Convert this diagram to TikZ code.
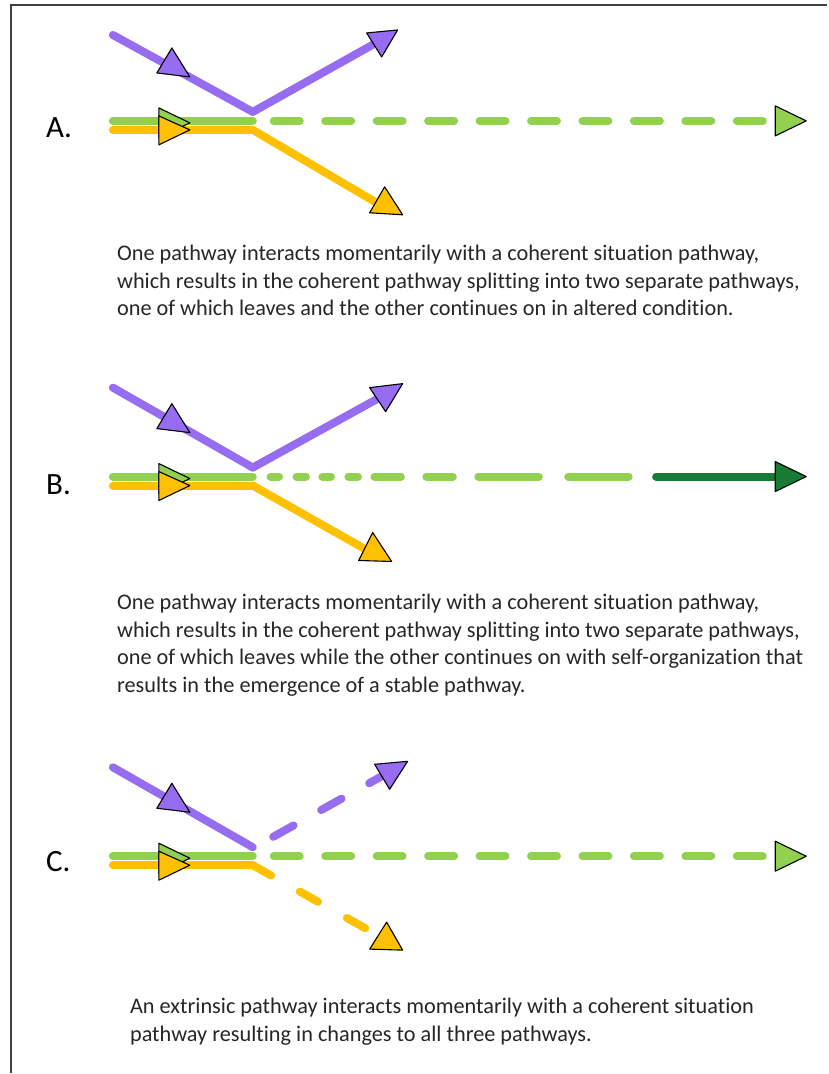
\documentclass[tikz,border=0pt]{standalone}
\usepackage{fontspec}
\setmainfont{Carlito}[Ligatures={NoCommon}]
\usetikzlibrary{calc}

\definecolor{pathPurple}{RGB}{150,108,240}
\definecolor{pathGreen}{RGB}{146,208,80}
\definecolor{pathOrange}{RGB}{255,192,0}
\definecolor{pathDark}{RGB}{24,122,52}
\definecolor{frameGray}{RGB}{64,64,64}

\begin{document}
\begin{tikzpicture}[x=1pt,y=-1pt]
    \tikzset{%
        pathway/.style={line width=8pt,line cap=round,line join=round},
        headtri/.style={draw=black,line width=1.1pt,line join=round},
        panellabel/.style={font=\fontsize{31}{31}\selectfont,
            anchor=base west,inner sep=0pt},
        % base 锚点是最后一行的基线
        caption/.style={font=\fontsize{22.3}{27.6}\selectfont,
            anchor=base west,align=left,inner sep=0pt,text=black!85},
        green dash/.style={dash pattern=on 26pt off 25.5pt}
    }
    % 三角形箭头: 颜色, 三个顶点
    \newcommand\DrawHead[4]{
        \filldraw[headtri,fill=#1] #2 -- #3 -- #4 -- cycle;}
    % 每组共有的部分: 参数1 名字前缀, 参数2 紫线起点的 y
    \newcommand\DrawEntry[2]{
        \coordinate (#1in) at (113,#2);
        \coordinate (#1bend) at (253,-9);
        \coordinate (#1gs) at (113,0);
        \coordinate (#1gm) at (253,0);
        \coordinate (#1os) at (113,9);
        \coordinate (#1om) at (253,9);
        \draw[pathway,pathOrange] (#1os) -- (#1om);
        \draw[pathway,pathGreen] (#1gs) -- (#1gm);
        \draw[pathway,pathPurple] (#1in) -- (#1bend);
        \DrawHead{pathPurple}{(172,-73)}{(157,-48)}{(190,-44)}
        \DrawHead{pathGreen}{(159,-13)}{(190,2)}{(159,17)}
        \DrawHead{pathOrange}{(159,-5)}{(190,9)}{(159,24)}
    }
    % 画框 (只有上边和左边)
    \draw[frameGray,line width=2pt] (828,5) -- (11,5) -- (11,1074);
    \useasboundingbox (0,0) rectangle (828,1074);

    %%%%%%%%%%%%%%%%%%%% A %%%%%%%%%%%%%%%%%%%%
    \node[panellabel] (labA) at (46,138) {A.};
    \begin{scope}[shift={(0,121)}]
        \coordinate (Aout) at (378,-79);
        \coordinate (Aoend) at (377,82);
        \coordinate (Agd) at (274,0);
        \coordinate (Age) at (776,0);
        \draw[pathway,pathPurple] (253,-9) -- (Aout);
        \draw[pathway,pathOrange] (253,9) -- (Aoend);
        \draw[pathway,pathGreen,green dash] (Agd) -- (Age);
        \DrawEntry{A}{-86}
        \DrawHead{pathPurple}{(367,-88)}{(398,-91)}{(382,-64)}
        \DrawHead{pathOrange}{(385,66)}{(370,92)}{(403,94)}
        \DrawHead{pathGreen}{(776,-15)}{(807,0)}{(776,15)}
    \end{scope}
    \node[caption] (txtA) at (117,316) {One pathway interacts momentarily
        with a coherent situation pathway,\\
        which results in the coherent pathway splitting into two separate
        pathways,\\
        one of which leaves and the other continues on in altered
        condition.};

    %%%%%%%%%%%%%%%%%%%% B %%%%%%%%%%%%%%%%%%%%
    \node[panellabel] (labB) at (46,495) {B.};
    \begin{scope}[shift={(0,477)}]
        \coordinate (Bout) at (380,-79);
        \coordinate (Boend) at (368,74);
        \coordinate (Bgd) at (270.75,0);
        \coordinate (Bge) at (629.25,0);
        \coordinate (Bks) at (656.75,0);
        \coordinate (Bke) at (776,0);
        \draw[pathway,pathPurple] (253,-9) -- (Bout);
        \draw[pathway,pathOrange] (253,9) -- (Boend);
        % 越来越长的虚线
        \draw[pathway,pathGreen,dash pattern=on 8.5pt off 17.5pt on 9.5pt
            off 16.5pt on 8.5pt off 17.5pt on 9.5pt off 16.5pt on 26.5pt
            off 25.5pt on 26.5pt off 25.5pt on 60.5pt off 29.5pt on 60.5pt
            off 40pt] (Bgd) -- (Bge);
        \draw[pathway,pathDark] (Bks) -- (Bke);
        \DrawEntry{B}{-89}
        \DrawHead{pathPurple}{(370,-89)}{(403,-93)}{(386,-65)}
        \DrawHead{pathOrange}{(373,56)}{(359,84)}{(392,85)}
        \DrawHead{pathDark}{(776,-15)}{(807,0)}{(776,15)}
    \end{scope}
    \node[caption] (txtB) at (117,693) {One pathway interacts momentarily
        with a coherent situation pathway,\\
        which results in the coherent pathway splitting into two separate
        pathways,\\
        one of which leaves while the other continues on with
        self-organization that\\
        results in the emergence of a stable pathway.};

    %%%%%%%%%%%%%%%%%%%% C %%%%%%%%%%%%%%%%%%%%
    \node[panellabel] (labC) at (46,872) {C.};
    \begin{scope}[shift={(0,857)}]
        \coordinate (Cout) at (382,-80);
        \coordinate (Coend) at (385,83);
        \coordinate (Cgd) at (274,0);
        \coordinate (Cge) at (776,0);
        \draw[pathway,pathPurple,dash pattern=on 23.4pt off 31.6pt,
            dash phase=31.6pt] (253,-8) -- (Cout);
        \draw[pathway,pathOrange,dash pattern=on 21pt off 33pt]
            (253,9) -- (Coend);
        \draw[pathway,pathGreen,green dash] (Cgd) -- (Cge);
        \DrawEntry{C}{-89}
        \DrawHead{pathPurple}{(375,-92)}{(408,-95)}{(390,-67)}
        \DrawHead{pathOrange}{(387,66)}{(370,93)}{(403,94)}
        \DrawHead{pathGreen}{(776,-15)}{(807,0)}{(776,15)}
    \end{scope}
    \node[caption] (txtC) at (130,1042) {An extrinsic pathway interacts
        momentarily with a coherent situation\\
        pathway resulting in changes to all three pathways.};
\end{tikzpicture}
\end{document}
